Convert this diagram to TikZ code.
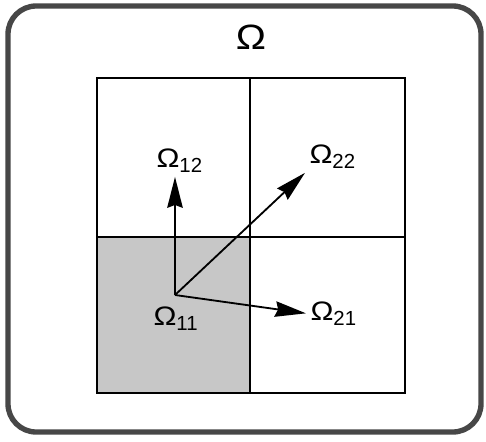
\documentclass[tikz,border=0pt]{standalone}
\usepackage{graphicx}
\usepackage{fontspec}
\setmainfont{Liberation Sans}
\usetikzlibrary{arrows.meta}

\newcommand{\omsym}[1]{\scalebox{1.15}[1]{\fontsize{#1}{#1}\selectfont Ω}}
\newcommand{\omlab}[1]{\omsym{19}\raisebox{-3.8pt}{\fontsize{14.5}{16}\selectfont #1}}

\begin{document}
\begin{tikzpicture}[x=0.025cm,y=-0.025cm,>={Stealth[length=22pt,width=11pt,inset=2pt]}]
\useasboundingbox (0,0) rectangle (486,441);
\draw[line width=3.8pt,black!72,rounded corners=20pt] (8,6) rectangle (481,432);
% shaded cell and grid
\fill[black!22] (97,237) rectangle (250,393);
\draw[line width=2.1pt] (97,78) rectangle (405,393) (250,78) -- (250,393) (97,237) -- (405,237);
\node (om) at (251,37) {\omsym{25}};
\node[anchor=base west,inner sep=3pt] (om12) at (152,167) {\omlab{12}};
\node[anchor=base west,inner sep=3pt] (om22) at (305,163) {\omlab{22}};
\node[anchor=base west,inner sep=3pt] (om11) at (149,325) {\omlab{11}};
\node[anchor=base west,inner sep=3pt] (om21) at (306,320) {\omlab{21}};
\coordinate (o) at (175,295);
\draw[->,line width=1.3pt] (o) -- (om12.south -| o);
\draw[->,line width=1.3pt] (o) -- (om22.south west);
\draw[->,line width=1.3pt] (o) -- (om21.west);
\end{tikzpicture}
\end{document}
